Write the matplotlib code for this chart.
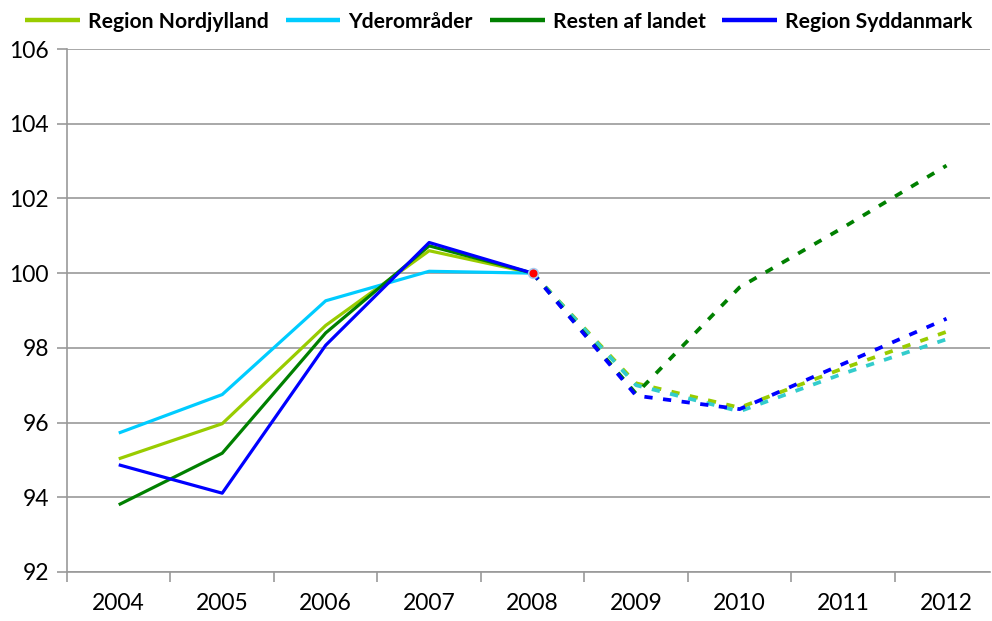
import numpy as np
import matplotlib.pyplot as plt

plt.rcParams['font.family'] = ['Lato', 'DejaVu Sans']

YEARS = ["2004", "2005", "2006", "2007", "2008", "2009", "2010", "2011", "2012"]

NORDJYLLAND = [95.03, 95.97, 98.60, 100.60, 100.0, 97.05, 96.40, 97.45, 98.43]
YDEROMRADER = [95.72, 96.75, 99.26, 100.05, 100.0, 97.00, 96.30, 97.31, 98.23]
RESTEN      = [93.80, 95.18, 98.40, 100.73, 100.0, 96.77, 99.62, 101.22, 102.88]
SYDDANMARK  = [94.87, 94.11, 98.07, 100.82, 100.0, 96.72, 96.36, 97.57, 98.78]

LABELS = ["Region Nordjylland", "Yderområder", "Resten af landet", "Region Syddanmark"]
COLORS = ["#99CC00", "#00CCFF", "#008000", "#0000FF"]
DASH_COLORS = ["#99CC00", "#33CCCC", "#008000", "#0000FF"]

SPLIT = 4  # index of 2008, start of the forecast

fig = plt.figure(figsize = (9.92, 6.21), dpi = 100)
ax = fig.add_axes([67 / 992, 1 - 572 / 621, (990 - 67) / 992, (572 - 49) / 621])

x = np.arange(len(YEARS))

for series, label, col, dcol in zip([NORDJYLLAND, YDEROMRADER, RESTEN, SYDDANMARK], LABELS, COLORS, DASH_COLORS):
    ax.plot(x[:SPLIT + 1], series[:SPLIT + 1], '-', color = col, lw = 2.3, label = label, solid_capstyle = 'butt', zorder = 3)
    ax.plot(x[SPLIT:], series[SPLIT:], '--', color = dcol, lw = 2.7, dashes = (2.2, 2.8), zorder = 3)

ax.plot([x[SPLIT]], [SYDDANMARK[SPLIT]], 'o', color = 'red', markersize = 7, markeredgecolor = '#A8CCF0', markeredgewidth = 1.2, zorder = 5)

ax.set_ylim(92, 106)
ax.set_yticks(np.arange(92, 107, 2))
ax.set_xlim(-0.5, 8.42)
ax.set_xticks(x)
ax.set_xticklabels(YEARS)
ax.set_xticks(np.arange(-0.5, 8.5, 1), minor = True)

ax.grid(axis = 'y', color = '#999999', lw = 1.2)
ax.set_axisbelow(True)
for s in ('top', 'right'):
    ax.spines[s].set_visible(False)
for s in ('left', 'bottom'):
    ax.spines[s].set_color('#999999')
    ax.spines[s].set_linewidth(1.2)

ax.tick_params(axis = 'y', length = 7, color = '#999999', width = 1.2, labelsize = 16.5, pad = 6)
ax.tick_params(axis = 'x', which = 'major', length = 0, labelsize = 16.5, pad = 15)
ax.tick_params(axis = 'x', which = 'minor', length = 7, color = '#999999', width = 1.2)

leg = fig.legend(loc = 'upper left', bbox_to_anchor = (0.006, 1.012), ncol = 4, frameon = False,
                 prop = {'weight': 'bold', 'size': 15.2}, handlelength = 2.6, handletextpad = 0.38, columnspacing = 0.8)
for line in leg.get_lines():
    line.set_linewidth(3.2)

fig.savefig('out.png', dpi = 100)
